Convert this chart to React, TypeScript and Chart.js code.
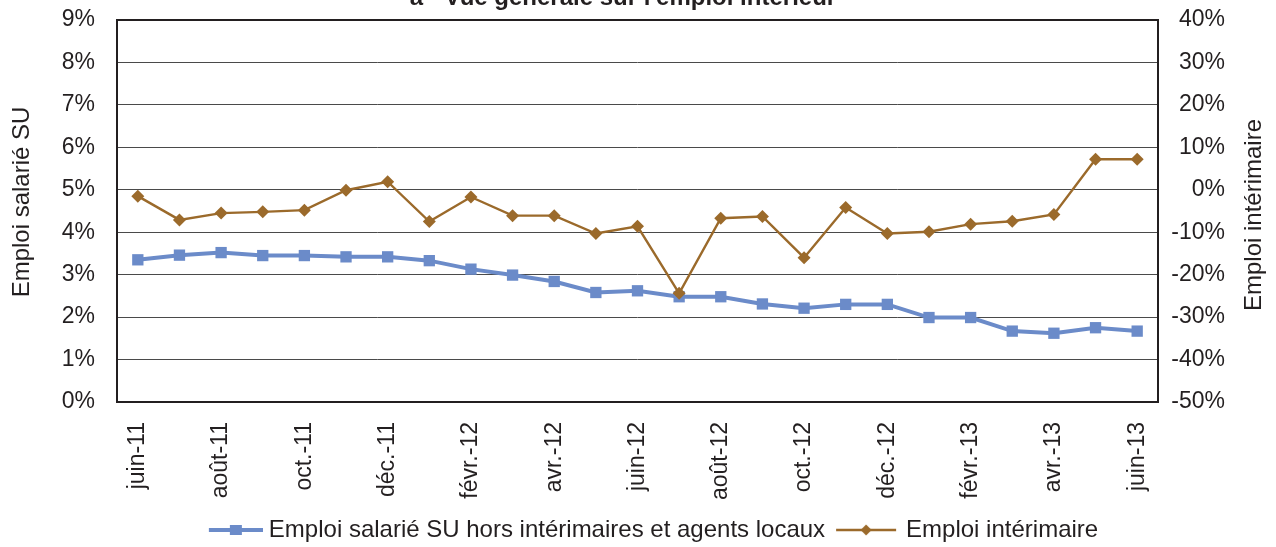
import React, { useEffect, useRef } from "react";
import { Chart, registerables } from "chart.js";

Chart.register(...registerables);

const months = [
  "juin-11", "juil.-11", "août-11", "sept.-11", "oct.-11", "nov.-11", "déc.-11",
  "janv.-12", "févr.-12", "mars-12", "avr.-12", "mai-12", "juin-12", "juil.-12",
  "août-12", "sept.-12", "oct.-12", "nov.-12", "déc.-12", "janv.-13", "févr.-13",
  "mars-13", "avr.-13", "mai-13", "juin-13",
];

const emploiSalarie = [
  3.35, 3.46, 3.52, 3.45, 3.45, 3.42, 3.42, 3.33, 3.13, 2.99, 2.84, 2.58, 2.62,
  2.48, 2.48, 2.31, 2.21, 2.30, 2.30, 1.99, 1.99, 1.67, 1.62, 1.75, 1.67,
];

const emploiInterim = [
  -1.5, -7.1, -5.5, -5.2, -4.8, -0.1, 1.9, -7.5, -1.7, -6.1, -6.1, -10.3, -8.6,
  -24.4, -6.7, -6.3, -16.0, -4.2, -10.3, -9.9, -8.1, -7.4, -5.8, 7.2, 7.2,
];

const seriesNames = [
  "Emploi salarié SU hors intérimaires et agents locaux",
  "Emploi intérimaire",
];

const chartTitle = "a - Vue générale sur l'emploi intérieur";
const leftAxisTitle = "Emploi salarié SU";
const rightAxisTitle = "Emploi intérimaire";

const BLUE = "#6b8bc9";
const BROWN = "#9b6a2b";
const TEXT = "#231f20";
const FONT = "'Liberation Sans', Arial, sans-serif";

function makeIcon(kind: "square" | "diamond"): HTMLCanvasElement {
  const c = document.createElement("canvas");
  const w = 68;
  const h = 14;
  c.width = w;
  c.height = h;
  const ctx = c.getContext("2d")!;
  if (kind === "square") {
    ctx.strokeStyle = BLUE;
    ctx.lineWidth = 4;
    ctx.beginPath();
    ctx.moveTo(14, h / 2);
    ctx.lineTo(68, h / 2);
    ctx.stroke();
    ctx.fillStyle = BLUE;
    ctx.fillRect(41 - 6, h / 2 - 5, 12, 10);
  } else {
    ctx.strokeStyle = BROWN;
    ctx.lineWidth = 2.5;
    ctx.beginPath();
    ctx.moveTo(4, h / 2);
    ctx.lineTo(64, h / 2);
    ctx.stroke();
    ctx.fillStyle = BROWN;
    const cx = 34;
    ctx.beginPath();
    ctx.moveTo(cx, h / 2 - 5.5);
    ctx.lineTo(cx + 5.5, h / 2);
    ctx.lineTo(cx, h / 2 + 5.5);
    ctx.lineTo(cx - 5.5, h / 2);
    ctx.closePath();
    ctx.fill();
  }
  return c;
}

export default function App() {
  const ref = useRef<HTMLCanvasElement | null>(null);

  useEffect(() => {
    if (!ref.current) return;
    const icons = [makeIcon("square"), makeIcon("diamond")];

    const decor = {
      id: "decor",
      afterLayout(chart: any) {
        if (chart.legend) {
          chart.legend.left += 37;
          chart.legend.right += 37;
        }
      },
      beforeDatasetsDraw(chart: any) {
        const { ctx, chartArea } = chart;
        ctx.save();
        ctx.strokeStyle = TEXT;
        ctx.lineWidth = 2;
        ctx.strokeRect(chartArea.left, chartArea.top, chartArea.right - chartArea.left, chartArea.bottom - chartArea.top);
        ctx.restore();
      },
      afterDraw(chart: any) {
        const { ctx } = chart;
        ctx.save();
        ctx.fillStyle = TEXT;
        ctx.font = `bold 24px ${FONT}`;
        ctx.textAlign = "center";
        ctx.textBaseline = "alphabetic";
        ctx.fillText(chartTitle, 623, 4.5);
        ctx.font = `24px ${FONT}`;
        ctx.textBaseline = "middle";
        ctx.save();
        ctx.translate(22, 202);
        ctx.rotate(-Math.PI / 2);
        ctx.fillText(leftAxisTitle, 0, 0);
        ctx.restore();
        ctx.save();
        ctx.translate(1254, 215);
        ctx.rotate(-Math.PI / 2);
        ctx.fillText(rightAxisTitle, 0, 0);
        ctx.restore();
        ctx.restore();
      },
    };

    const chart = new Chart(ref.current, {
      type: "line",
      data: {
        labels: months,
        datasets: [
          {
            label: seriesNames[0],
            data: emploiSalarie,
            yAxisID: "y",
            borderColor: BLUE,
            backgroundColor: BLUE,
            borderWidth: 4,
            pointStyle: "rect",
            pointRadius: 8,
            pointBorderWidth: 0,
            pointBackgroundColor: BLUE,
            tension: 0,
            order: 1,
          },
          {
            label: seriesNames[1],
            data: emploiInterim,
            yAxisID: "y1",
            borderColor: BROWN,
            backgroundColor: BROWN,
            borderWidth: 2.4,
            pointStyle: "rectRot",
            pointRadius: 6.5,
            pointBorderWidth: 0,
            pointBackgroundColor: BROWN,
            tension: 0,
            order: 0,
          },
        ],
      },
      plugins: [decor],
      options: {
        responsive: false,
        animation: false,
        layout: { padding: { top: 20, right: 51, bottom: -5, left: 0 } },
        plugins: {
          title: { display: false },
          tooltip: { enabled: false },
          legend: {
            display: true,
            position: "bottom",
            labels: {
              usePointStyle: true,
              pointStyleWidth: 56,
              padding: 13,
              color: TEXT,
              font: { family: FONT, size: 24 },
              generateLabels: (c: any) => {
                const items = Chart.defaults.plugins.legend.labels.generateLabels(c);
                items.sort((a: any, b: any) => a.datasetIndex - b.datasetIndex);
                return items.map((it: any) => ({ ...it, pointStyle: icons[it.datasetIndex] }));
              },
            },
          },
        },
        scales: {
          x: {
            offset: true,
            grid: { display: false, drawTicks: false },
            border: { display: false },
            ticks: {
              autoSkip: false,
              minRotation: 90,
              maxRotation: 90,
              padding: 20,
              color: TEXT,
              font: { family: FONT, size: 23 },
              callback: (_v: any, i: number) => (i % 2 === 0 ? months[i] : ""),
            },
            afterFit: (s: any) => { s.height = 103; },
          },
          y: {
            position: "left",
            min: 0,
            max: 9,
            grid: { color: "#4a4a4a", lineWidth: 1, drawTicks: false },
            border: { display: false },
            ticks: {
              stepSize: 1,
              padding: 22,
              color: TEXT,
              font: { family: FONT, size: 23 },
              callback: (v: any) => `${v}%`,
            },
            afterFit: (s: any) => { s.width = 117; s.paddingTop = 0; s.paddingBottom = 0; },
          },
          y1: {
            position: "right",
            min: -50,
            max: 40,
            grid: { display: false, drawTicks: false },
            border: { display: false },
            ticks: {
              stepSize: 10,
              padding: 10,
              crossAlign: "far",
              color: TEXT,
              font: { family: FONT, size: 23 },
              callback: (v: any) => `${v}%`,
            },
            afterFit: (s: any) => { s.width = 67; s.paddingTop = 0; s.paddingBottom = 0; },
          },
        },
      },
    } as any);

    return () => chart.destroy();
  }, []);

  return (
    <div style={{ position: "absolute", left: 0, top: 0, width: 1276, height: 547, background: "#fff" }}>
      <canvas ref={ref} width={1276} height={547} style={{ display: "block" }} />
    </div>
  );
}
